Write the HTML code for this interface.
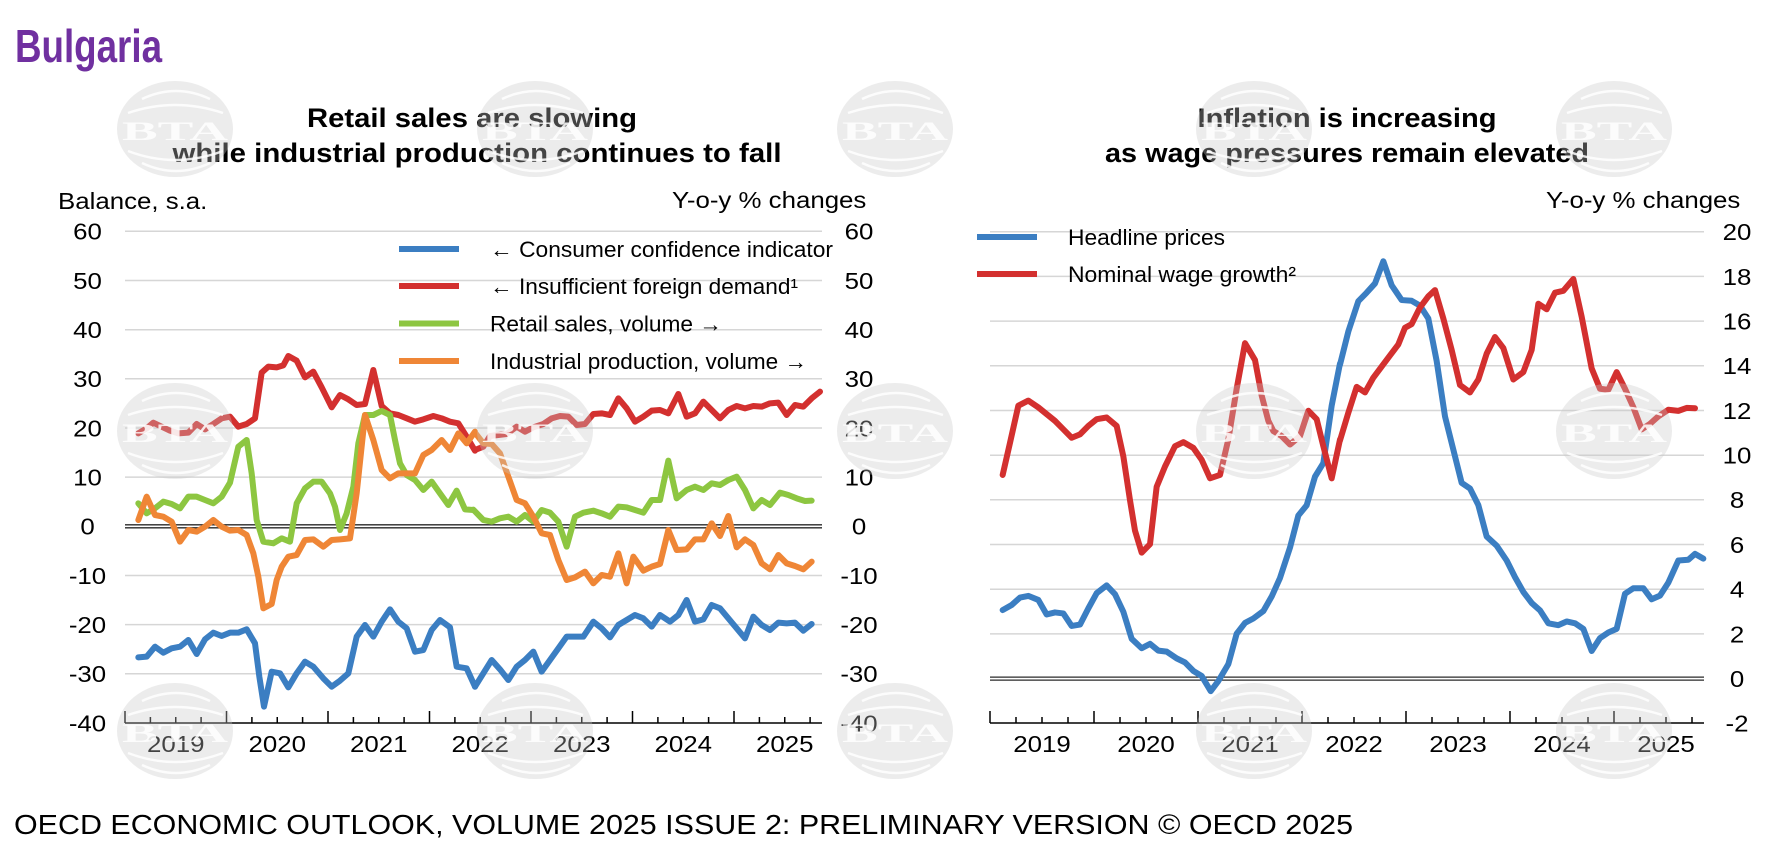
<!DOCTYPE html>
<html><head><meta charset="utf-8"><style>
html,body{margin:0;padding:0;background:#fff;}
svg{display:block;}
.t{font-family:"Liberation Sans",Arial,sans-serif;font-size:23.5px;fill:#000;}
.b{font-family:"Liberation Sans",Arial,sans-serif;font-weight:bold;fill:#000;}
.lg{font-family:"Liberation Sans","DejaVu Sans",Arial,sans-serif;font-size:22px;fill:#000;}
.s{fill:none;stroke-width:6;stroke-linejoin:round;stroke-linecap:round;vector-effect:non-scaling-stroke;}
.wmt{font-family:"Liberation Serif",serif;font-weight:bold;font-size:26px;fill:#fff;fill-opacity:0.85;}
</style></head><body>
<svg width="1787" height="861" viewBox="0 0 1787 861" xmlns="http://www.w3.org/2000/svg">
<rect width="1787" height="861" fill="#fff"/>

<!-- Gridlines -->
<g stroke="#d6d6d6" stroke-width="1.5">
<path d="M125 231.3H822M125 280.5H822M125 329.7H822M125 378.8H822M125 428H822M125 477.1H822M125 575.5H822M125 624.6H822M125 673.8H822"/>
<path d="M990 231.7H1704M990 276.4H1704M990 321.1H1704M990 365.8H1704M990 410.5H1704M990 455.2H1704M990 499.8H1704M990 544.5H1704M990 589.2H1704M990 633.9H1704"/>
</g>
<!-- zero lines -->
<g stroke="#2a2a2a" stroke-width="1.3">
<path d="M125 524.8H822M125 527.8H822"/>
<path d="M990 677.1H1704M990 680.1H1704"/>
</g>
<!-- x axes -->
<g stroke="#000" stroke-width="1.5" fill="none">
<path d="M125 723H822M990 723H1704"/>
<path d="M125 723V711M150.4 723V717M175.75 723V717M201.1 723V717M226.5 723V711M251.9 723V717M277.25 723V717M302.6 723V717M328 723V711M353.4 723V717M378.75 723V717M404.1 723V717M429.5 723V711M454.9 723V717M480.25 723V717M505.6 723V717M531 723V711M556.4 723V717M581.75 723V717M607.1 723V717M632.5 723V711M657.9 723V717M683.25 723V717M708.6 723V717M734 723V711M759.4 723V717M784.75 723V717M810.1 723V717"/>
<path d="M990 723V711M1016 723V717M1042 723V717M1068 723V717M1094 723V711M1120 723V717M1146 723V717M1172 723V717M1198 723V711M1224 723V717M1250 723V717M1276 723V717M1302 723V711M1328 723V717M1354 723V717M1380 723V717M1406 723V711M1432 723V717M1458 723V717M1484 723V717M1510 723V711M1536 723V717M1562 723V717M1588 723V717M1614 723V711M1640 723V717M1666 723V717M1692 723V717"/>
</g>

<!-- Left chart series -->
<g transform="translate(120,300) scale(0.333333)">
<polyline class="s" stroke="#3b7ec2" points="55,1072 80,1070 105,1040 130,1058 155,1045 180,1040 205,1020 230,1062 255,1018 280,998 305,1008 330,998 355,998 380,988 405,1030 418,1130 432,1220 455,1115 480,1120 505,1162 530,1120 555,1085 580,1100 610,1135 635,1160 660,1142 685,1120 710,1010 735,975 760,1010 785,965 810,928 835,965 860,985 885,1055 910,1050 935,990 960,960 990,982 1010,1100 1040,1105 1065,1160"/>
<polyline class="s" stroke="#d3302f" points="55,400 80,385 100,368 125,380 150,392 175,400 205,398 230,372 255,388 280,372 305,355 330,350 355,380 380,372 405,355 425,218 445,200 470,202 490,196 505,168 530,182 555,232 580,215 605,262 635,322 660,285 685,298 710,315 735,312 760,210 785,318 810,340 835,345 860,355 885,365 910,358 940,348 965,355 990,365 1015,370 1040,410 1065,452"/>
<polyline class="s" stroke="#8dc641" points="55,610 80,640 105,625 130,605 155,612 180,625 205,590 230,590 255,600 280,610 305,590 330,548 355,440 380,420 395,520 410,660 430,725 460,730 485,715 510,725 530,610 555,565 580,545 605,545 630,580 645,620 660,690 680,640 700,560 715,430 735,345 760,345 785,333 810,345 825,420 840,490 860,525 885,540 910,570 935,545 960,580 985,615 1010,572 1035,628 1060,630"/>
<polyline class="s" stroke="#ef8636" points="55,660 80,590 105,645 130,650 155,665 180,725 205,690 230,695 255,680 280,660 305,680 330,692 355,690 380,705 400,760 415,830 430,925 455,912 470,840 485,800 505,770 530,765 555,720 580,718 610,740 635,720 660,718 690,715 710,580 735,345 760,420 785,510 810,535 835,520 860,520 885,520 910,465 935,450 965,420 990,450 1015,400 1040,430 1065,395"/>
</g>
<g transform="translate(460,300) scale(0.333333)">
<polyline class="s" stroke="#3b7ec2" points="45,1160 70,1120 95,1080 120,1108 145,1140 170,1100 195,1080 220,1055 245,1115 270,1080 295,1045 320,1010 345,1010 370,1010 400,965 425,985 450,1012 475,975 500,960 525,945 550,955 575,980 600,945 630,965 655,945 680,900 705,965 730,958 755,915 780,925 805,955 830,985 855,1015 880,950 905,975 930,990 955,968 980,970 1005,968 1030,992 1055,972"/>
<polyline class="s" stroke="#d3302f" points="45,450 70,440 90,408 115,405 140,402 170,380 195,395 220,382 250,372 275,355 300,348 325,350 350,375 375,372 400,342 425,340 450,345 475,295 500,325 525,365 550,350 575,332 600,330 625,340 655,282 680,350 705,340 730,305 755,330 780,355 805,330 830,318 855,325 880,318 905,320 930,310 955,308 980,345 1005,315 1030,320 1055,295 1080,275"/>
<polyline class="s" stroke="#8dc641" points="40,629 70,660 95,665 120,655 145,650 170,665 195,645 220,665 245,630 270,638 295,665 320,740 345,650 370,638 400,632 425,640 450,650 475,620 500,622 525,630 550,638 575,600 600,600 625,482 650,595 680,570 705,560 730,570 755,550 780,555 805,540 830,530 855,570 880,625 905,600 930,615 960,578 985,585 1010,595 1035,603 1055,602"/>
<polyline class="s" stroke="#ef8636" points="45,398 70,430 95,432 120,460 145,530 170,600 195,610 220,650 245,700 270,705 295,780 320,840 345,832 375,815 400,850 425,825 450,830 475,760 500,850 520,770 550,812 575,800 600,792 625,690 650,750 680,748 705,718 730,718 755,670 780,708 805,648 830,742 855,718 880,735 905,790 930,808 955,765 980,790 1005,798 1030,808 1055,785"/>
</g>

<!-- Right chart series -->
<g transform="translate(980,230) scale(0.333333,0.337838)">
<polyline class="s" stroke="#3b7ec2" points="68,1125 95,1110 120,1088 145,1083 175,1095 200,1138 225,1132 250,1135 275,1172 300,1168 325,1120 350,1075 380,1052 405,1078 430,1130 455,1210 485,1238 510,1225 535,1245 560,1248 590,1268 615,1280 640,1305 665,1320 692,1365 715,1335 745,1285 770,1195 795,1163 820,1150 850,1128 875,1085 900,1030 930,940 955,845 980,815 1005,730 1030,690 1055,520 1080,395"/>
<polyline class="s" stroke="#d3302f" points="68,725 90,630 115,520 145,505 175,525 200,545 225,565 250,590 275,615 300,605 325,580 350,560 380,555 410,580 430,670 450,800 465,890 485,955 510,930 530,760 555,700 585,640 610,628 640,645 665,680 690,735 720,725 745,620 770,470 795,335 825,385 845,490 865,565 880,595 905,610 930,635 960,610 985,535 1010,560 1030,640 1055,735 1080,620"/>
</g>
<g transform="translate(1340,180) scale(0.333333,0.369413)">
<polyline class="s" stroke="#3b7ec2" points="0,500 25,410 55,328 80,305 105,280 130,220 155,285 185,325 215,327 240,340 265,375 290,490 315,640 340,730 365,820 390,835 415,880 440,965 470,990 500,1030 525,1075 550,1115 575,1145 600,1165 625,1200 655,1205 680,1195 705,1200 730,1215 755,1275 780,1240 805,1225 830,1215 855,1120 880,1105 910,1105 935,1135 960,1125 985,1090 1015,1030 1045,1028 1065,1012 1090,1025"/>
<polyline class="s" stroke="#d3302f" points="0,705 25,630 50,560 75,575 100,535 125,505 150,475 175,445 195,400 215,390 240,345 265,315 285,298 310,375 335,460 360,555 390,575 415,540 440,470 465,425 490,455 520,540 550,520 575,460 595,335 620,350 645,305 670,300 700,268 725,370 755,510 780,565 805,568 830,520 855,565 880,615 905,675 930,660 955,640 985,622 1015,625 1040,617 1065,618"/>
</g>

<!-- Legends -->
<g stroke-width="6">
<path d="M399 249H459" stroke="#3b7ec2"/>
<path d="M399 286H459" stroke="#d3302f"/>
<path d="M399 323.5H459" stroke="#8dc641"/>
<path d="M399 361H459" stroke="#ef8636"/>
<path d="M977 237H1037" stroke="#3b7ec2"/>
<path d="M977 274H1037" stroke="#d3302f"/>
</g>
<text class="lg" x="490" y="257" textLength="343" lengthAdjust="spacingAndGlyphs">← Consumer confidence indicator</text>
<text class="lg" x="490" y="294" textLength="308" lengthAdjust="spacingAndGlyphs">← Insufficient foreign demand¹</text>
<text class="lg" x="490" y="331.5" textLength="232" lengthAdjust="spacingAndGlyphs">Retail sales, volume →</text>
<text class="lg" x="490" y="369" textLength="317" lengthAdjust="spacingAndGlyphs">Industrial production, volume →</text>
<text class="lg" x="1068" y="245" textLength="157" lengthAdjust="spacingAndGlyphs">Headline prices</text>
<text class="lg" x="1068" y="282" textLength="228" lengthAdjust="spacingAndGlyphs">Nominal wage growth²</text>

<!-- Titles -->
<text class="b" x="15" y="62" font-size="46" style="fill:#7030a0" textLength="147" lengthAdjust="spacingAndGlyphs">Bulgaria</text>
<text class="b" x="472" y="127" font-size="27" text-anchor="middle" textLength="330" lengthAdjust="spacingAndGlyphs">Retail sales are slowing</text>
<text class="b" x="477" y="162" font-size="27" text-anchor="middle" textLength="609" lengthAdjust="spacingAndGlyphs">while industrial production continues to fall</text>
<text class="b" x="1347" y="127" font-size="27" text-anchor="middle" textLength="299" lengthAdjust="spacingAndGlyphs">Inflation is increasing</text>
<text class="b" x="1347" y="162" font-size="27" text-anchor="middle" textLength="484" lengthAdjust="spacingAndGlyphs">as wage pressures remain elevated</text>

<!-- Axis titles -->
<text class="t" transform="translate(58,209) scale(1.1,1)">Balance, s.a.</text>
<text class="t" transform="translate(672,208) scale(1.1,1)">Y-o-y % changes</text>
<text class="t" transform="translate(1546,208) scale(1.1,1)">Y-o-y % changes</text>

<!-- Left chart y labels -->
<g text-anchor="middle">
<text class="t" transform="translate(87.5,239.7) scale(1.1,1)">60</text>
<text class="t" transform="translate(87.5,288.9) scale(1.1,1)">50</text>
<text class="t" transform="translate(87.5,338.1) scale(1.1,1)">40</text>
<text class="t" transform="translate(87.5,387.2) scale(1.1,1)">30</text>
<text class="t" transform="translate(87.5,436.4) scale(1.1,1)">20</text>
<text class="t" transform="translate(87.5,485.5) scale(1.1,1)">10</text>
<text class="t" transform="translate(87.5,534.7) scale(1.1,1)">0</text>
<text class="t" transform="translate(87.5,583.9) scale(1.1,1)">-10</text>
<text class="t" transform="translate(87.5,633) scale(1.1,1)">-20</text>
<text class="t" transform="translate(87.5,682.2) scale(1.1,1)">-30</text>
<text class="t" transform="translate(87.5,731.3) scale(1.1,1)">-40</text>

<text class="t" transform="translate(859,239.7) scale(1.1,1)">60</text>
<text class="t" transform="translate(859,288.9) scale(1.1,1)">50</text>
<text class="t" transform="translate(859,338.1) scale(1.1,1)">40</text>
<text class="t" transform="translate(859,387.2) scale(1.1,1)">30</text>
<text class="t" transform="translate(859,436.4) scale(1.1,1)">20</text>
<text class="t" transform="translate(859,485.5) scale(1.1,1)">10</text>
<text class="t" transform="translate(859,534.7) scale(1.1,1)">0</text>
<text class="t" transform="translate(859,583.9) scale(1.1,1)">-10</text>
<text class="t" transform="translate(859,633) scale(1.1,1)">-20</text>
<text class="t" transform="translate(859,682.2) scale(1.1,1)">-30</text>
<text class="t" transform="translate(859,731.3) scale(1.1,1)">-40</text>

<text class="t" transform="translate(1737,240.1) scale(1.1,1)">20</text>
<text class="t" transform="translate(1737,284.8) scale(1.1,1)">18</text>
<text class="t" transform="translate(1737,329.5) scale(1.1,1)">16</text>
<text class="t" transform="translate(1737,374.2) scale(1.1,1)">14</text>
<text class="t" transform="translate(1737,418.9) scale(1.1,1)">12</text>
<text class="t" transform="translate(1737,463.6) scale(1.1,1)">10</text>
<text class="t" transform="translate(1737,508.2) scale(1.1,1)">8</text>
<text class="t" transform="translate(1737,552.9) scale(1.1,1)">6</text>
<text class="t" transform="translate(1737,597.6) scale(1.1,1)">4</text>
<text class="t" transform="translate(1737,642.3) scale(1.1,1)">2</text>
<text class="t" transform="translate(1737,687) scale(1.1,1)">0</text>
<text class="t" transform="translate(1737,731.7) scale(1.1,1)">-2</text>

<!-- Year labels -->
<text class="t" transform="translate(175.75,752) scale(1.1,1)">2019</text>
<text class="t" transform="translate(277.25,752) scale(1.1,1)">2020</text>
<text class="t" transform="translate(378.75,752) scale(1.1,1)">2021</text>
<text class="t" transform="translate(480.25,752) scale(1.1,1)">2022</text>
<text class="t" transform="translate(581.75,752) scale(1.1,1)">2023</text>
<text class="t" transform="translate(683.25,752) scale(1.1,1)">2024</text>
<text class="t" transform="translate(784.75,752) scale(1.1,1)">2025</text>
<text class="t" transform="translate(1042,752) scale(1.1,1)">2019</text>
<text class="t" transform="translate(1146,752) scale(1.1,1)">2020</text>
<text class="t" transform="translate(1250,752) scale(1.1,1)">2021</text>
<text class="t" transform="translate(1354,752) scale(1.1,1)">2022</text>
<text class="t" transform="translate(1458,752) scale(1.1,1)">2023</text>
<text class="t" transform="translate(1562,752) scale(1.1,1)">2024</text>
<text class="t" transform="translate(1666,752) scale(1.1,1)">2025</text>
</g>

<!-- Footer -->
<text x="14" y="834" font-family="Liberation Sans, Arial, sans-serif" font-size="28" fill="#000" textLength="1339" lengthAdjust="spacingAndGlyphs">OECD ECONOMIC OUTLOOK, VOLUME 2025 ISSUE 2: PRELIMINARY VERSION © OECD 2025</text>

<!-- Watermarks -->
<g id="wms">
<g transform="translate(175,129)"><ellipse rx="58" ry="48" fill="#c8c8c8" fill-opacity="0.34"/><path d="M-33,-30Q1,-46 35,-30M-47,-16Q0,-32 48,-16M-47,22Q0,40 48,22M-33,34Q1,50 35,34" stroke="#fff" stroke-opacity="0.85" stroke-width="2.5" fill="none"/><text class="wmt" y="11" text-anchor="middle" textLength="106" lengthAdjust="spacingAndGlyphs">BTA</text></g>
<g transform="translate(535,129)"><ellipse rx="58" ry="48" fill="#c8c8c8" fill-opacity="0.34"/><path d="M-33,-30Q1,-46 35,-30M-47,-16Q0,-32 48,-16M-47,22Q0,40 48,22M-33,34Q1,50 35,34" stroke="#fff" stroke-opacity="0.85" stroke-width="2.5" fill="none"/><text class="wmt" y="11" text-anchor="middle" textLength="106" lengthAdjust="spacingAndGlyphs">BTA</text></g>
<g transform="translate(895,129)"><ellipse rx="58" ry="48" fill="#c8c8c8" fill-opacity="0.34"/><path d="M-33,-30Q1,-46 35,-30M-47,-16Q0,-32 48,-16M-47,22Q0,40 48,22M-33,34Q1,50 35,34" stroke="#fff" stroke-opacity="0.85" stroke-width="2.5" fill="none"/><text class="wmt" y="11" text-anchor="middle" textLength="106" lengthAdjust="spacingAndGlyphs">BTA</text></g>
<g transform="translate(1254,129)"><ellipse rx="58" ry="48" fill="#c8c8c8" fill-opacity="0.34"/><path d="M-33,-30Q1,-46 35,-30M-47,-16Q0,-32 48,-16M-47,22Q0,40 48,22M-33,34Q1,50 35,34" stroke="#fff" stroke-opacity="0.85" stroke-width="2.5" fill="none"/><text class="wmt" y="11" text-anchor="middle" textLength="106" lengthAdjust="spacingAndGlyphs">BTA</text></g>
<g transform="translate(1614,129)"><ellipse rx="58" ry="48" fill="#c8c8c8" fill-opacity="0.34"/><path d="M-33,-30Q1,-46 35,-30M-47,-16Q0,-32 48,-16M-47,22Q0,40 48,22M-33,34Q1,50 35,34" stroke="#fff" stroke-opacity="0.85" stroke-width="2.5" fill="none"/><text class="wmt" y="11" text-anchor="middle" textLength="106" lengthAdjust="spacingAndGlyphs">BTA</text></g>

<g transform="translate(175,431)"><ellipse rx="58" ry="48" fill="#c8c8c8" fill-opacity="0.34"/><path d="M-33,-30Q1,-46 35,-30M-47,-16Q0,-32 48,-16M-47,22Q0,40 48,22M-33,34Q1,50 35,34" stroke="#fff" stroke-opacity="0.85" stroke-width="2.5" fill="none"/><text class="wmt" y="11" text-anchor="middle" textLength="106" lengthAdjust="spacingAndGlyphs">BTA</text></g>
<g transform="translate(535,431)"><ellipse rx="58" ry="48" fill="#c8c8c8" fill-opacity="0.34"/><path d="M-33,-30Q1,-46 35,-30M-47,-16Q0,-32 48,-16M-47,22Q0,40 48,22M-33,34Q1,50 35,34" stroke="#fff" stroke-opacity="0.85" stroke-width="2.5" fill="none"/><text class="wmt" y="11" text-anchor="middle" textLength="106" lengthAdjust="spacingAndGlyphs">BTA</text></g>
<g transform="translate(895,431)"><ellipse rx="58" ry="48" fill="#c8c8c8" fill-opacity="0.34"/><path d="M-33,-30Q1,-46 35,-30M-47,-16Q0,-32 48,-16M-47,22Q0,40 48,22M-33,34Q1,50 35,34" stroke="#fff" stroke-opacity="0.85" stroke-width="2.5" fill="none"/><text class="wmt" y="11" text-anchor="middle" textLength="106" lengthAdjust="spacingAndGlyphs">BTA</text></g>
<g transform="translate(1254,431)"><ellipse rx="58" ry="48" fill="#c8c8c8" fill-opacity="0.34"/><path d="M-33,-30Q1,-46 35,-30M-47,-16Q0,-32 48,-16M-47,22Q0,40 48,22M-33,34Q1,50 35,34" stroke="#fff" stroke-opacity="0.85" stroke-width="2.5" fill="none"/><text class="wmt" y="11" text-anchor="middle" textLength="106" lengthAdjust="spacingAndGlyphs">BTA</text></g>
<g transform="translate(1614,431)"><ellipse rx="58" ry="48" fill="#c8c8c8" fill-opacity="0.34"/><path d="M-33,-30Q1,-46 35,-30M-47,-16Q0,-32 48,-16M-47,22Q0,40 48,22M-33,34Q1,50 35,34" stroke="#fff" stroke-opacity="0.85" stroke-width="2.5" fill="none"/><text class="wmt" y="11" text-anchor="middle" textLength="106" lengthAdjust="spacingAndGlyphs">BTA</text></g>

<g transform="translate(175,731)"><ellipse rx="58" ry="48" fill="#c8c8c8" fill-opacity="0.34"/><path d="M-33,-30Q1,-46 35,-30M-47,-16Q0,-32 48,-16M-47,22Q0,40 48,22M-33,34Q1,50 35,34" stroke="#fff" stroke-opacity="0.85" stroke-width="2.5" fill="none"/><text class="wmt" y="11" text-anchor="middle" textLength="106" lengthAdjust="spacingAndGlyphs">BTA</text></g>
<g transform="translate(535,731)"><ellipse rx="58" ry="48" fill="#c8c8c8" fill-opacity="0.34"/><path d="M-33,-30Q1,-46 35,-30M-47,-16Q0,-32 48,-16M-47,22Q0,40 48,22M-33,34Q1,50 35,34" stroke="#fff" stroke-opacity="0.85" stroke-width="2.5" fill="none"/><text class="wmt" y="11" text-anchor="middle" textLength="106" lengthAdjust="spacingAndGlyphs">BTA</text></g>
<g transform="translate(895,731)"><ellipse rx="58" ry="48" fill="#c8c8c8" fill-opacity="0.34"/><path d="M-33,-30Q1,-46 35,-30M-47,-16Q0,-32 48,-16M-47,22Q0,40 48,22M-33,34Q1,50 35,34" stroke="#fff" stroke-opacity="0.85" stroke-width="2.5" fill="none"/><text class="wmt" y="11" text-anchor="middle" textLength="106" lengthAdjust="spacingAndGlyphs">BTA</text></g>
<g transform="translate(1254,731)"><ellipse rx="58" ry="48" fill="#c8c8c8" fill-opacity="0.34"/><path d="M-33,-30Q1,-46 35,-30M-47,-16Q0,-32 48,-16M-47,22Q0,40 48,22M-33,34Q1,50 35,34" stroke="#fff" stroke-opacity="0.85" stroke-width="2.5" fill="none"/><text class="wmt" y="11" text-anchor="middle" textLength="106" lengthAdjust="spacingAndGlyphs">BTA</text></g>
<g transform="translate(1614,731)"><ellipse rx="58" ry="48" fill="#c8c8c8" fill-opacity="0.34"/><path d="M-33,-30Q1,-46 35,-30M-47,-16Q0,-32 48,-16M-47,22Q0,40 48,22M-33,34Q1,50 35,34" stroke="#fff" stroke-opacity="0.85" stroke-width="2.5" fill="none"/><text class="wmt" y="11" text-anchor="middle" textLength="106" lengthAdjust="spacingAndGlyphs">BTA</text></g>
</g>
</svg>
</body></html>
